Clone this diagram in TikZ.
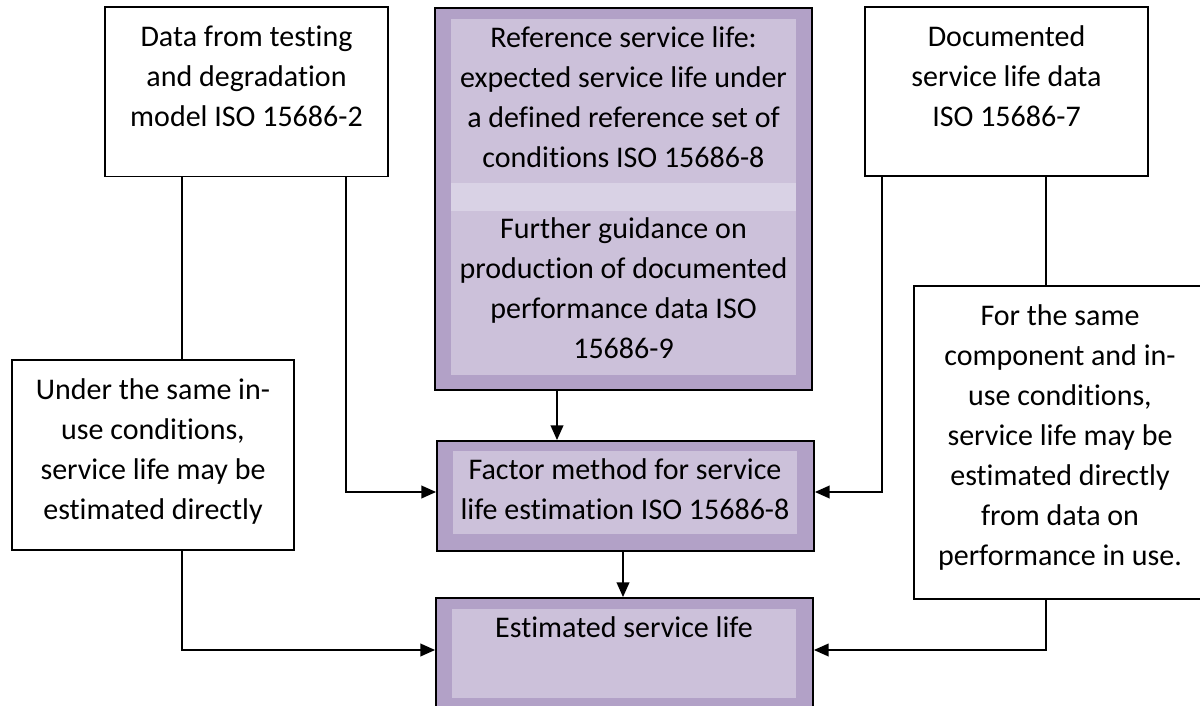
\documentclass[tikz,border=0pt]{standalone}
\usepackage{fontspec}
\setmainfont{Carlito}[Ligatures=NoCommon]
\usetikzlibrary{arrows.meta,calc}
\definecolor{lilacdark}{HTML}{B2A1C7}
\definecolor{lilac}{HTML}{CCC1DA}
\definecolor{lilaclight}{HTML}{D9D2E5}
\begin{document}
\begin{tikzpicture}[x=0.75pt,y=-0.75pt,
  whitebox/.style={draw=black,line width=1.4pt,fill=white,inner sep=0pt},
  purplebox/.style={draw=black,line width=1.4pt,fill=lilacdark,inner sep=0pt},
  panel/.style={fill=lilac,inner sep=0pt},
  band/.style={fill=lilaclight,inner sep=0pt},
  txt/.style={align=center,anchor=base,inner sep=0pt,font=\fontsize{22.5pt}{30pt}\selectfont},
  conn/.style={line width=1.2pt},
  arr/.style={conn,-{Triangle[length=11pt,width=9.5pt]}}]
\useasboundingbox (0,0) rectangle (1200,706);
\clip (0,0) rectangle (1200,706);
\fill[white] (0,0) rectangle (1200,706);

% outer boxes
\node[whitebox,minimum width=283*0.75pt,minimum height=169.5*0.75pt] (ltop) at (246.5,91.75) {};
\node[whitebox,minimum width=282*0.75pt,minimum height=190*0.75pt] (llow) at (153,455) {};
\node[whitebox,minimum width=283*0.75pt,minimum height=169*0.75pt] (rtop) at (1006.5,91.5) {};
\node[whitebox,minimum width=292*0.75pt,minimum height=313*0.75pt] (rlow) at (1060,442.5) {};
\node[purplebox,minimum width=377*0.75pt,minimum height=382*0.75pt] (ctop) at (623.5,199) {};
\node[purplebox,minimum width=377*0.75pt,minimum height=110*0.75pt] (factor) at (625.5,496) {};
\node[purplebox,minimum width=377*0.75pt,minimum height=122*0.75pt] (est) at (624.5,659) {};

% lighter inner panels of the purple boxes
\node[panel,minimum width=345*0.75pt,minimum height=356*0.75pt] (ctoppanel) at (623.5,197) {};
\node[band,minimum width=345*0.75pt,minimum height=28*0.75pt] (ctopband) at (623.5,197) {};
\node[panel,minimum width=344*0.75pt,minimum height=83*0.75pt] (factorpanel) at (625,492.5) {};
\node[panel,minimum width=344*0.75pt,minimum height=89*0.75pt] (estpanel) at (624,653.5) {};

% texts (placed by the baseline of their last line)
\node[txt] (ltoptxt) at (246.5,127) {Data from testing\\and degradation\\model ISO 15686-2};
\node[txt] (rtoptxt) at (1006.5,127) {Documented\\service life data\\ISO 15686-7};
\node[txt] (ctoptxta) at (623.5,168) {Reference service life:\\expected service life under\\a defined reference set of\\conditions ISO 15686-8};
\node[txt] (ctoptxtb) at (623.5,358) {Further guidance on\\production of documented\\performance data ISO\\15686-9};
\node[txt] (llowtxt) at (153,519) {Under the same in-\\use conditions,\\service life may be\\estimated directly};
\node[txt] (rlowtxt) at (1060,565) {For the same\\component and in-\\use conditions,\\service life may be\\estimated directly\\from data on\\performance in use.};
\node[txt] (factortxt) at (625,519) {Factor method for service\\life estimation ISO 15686-8};
\node[txt] (esttxt) at (624,637) {Estimated service life};

% connector end points
\coordinate (l1) at ($(ltop.south)+(-64.5,0)$);
\coordinate (l2) at ($(ltop.south)+(99.5,0)$);
\coordinate (l3) at ($(llow.south)+(29,0)$);
\coordinate (r1) at ($(rtop.south)+(-124.5,0)$);
\coordinate (r2) at ($(rtop.south)+(39.5,0)$);
\coordinate (r3) at ($(rlow.south)+(-14,0)$);
\coordinate (c1) at ($(ctop.south)+(-66.5,0)$);
\coordinate (f1) at ($(factor.south)+(-2.5,0)$);
\coordinate (fa) at ($(factor.west)+(0,-4)$);
\coordinate (fb) at ($(factor.east)+(0,-4)$);
\coordinate (ea) at ($(est.west)+(0,-9)$);
\coordinate (eb) at ($(est.east)+(0,-9)$);

% connectors
\draw[conn] (l1) -- (l1 |- llow.north);
\draw[arr] (l2) |- (fa);
\draw[arr] (l3) |- (ea);
\draw[arr] (r1) |- (fb);
\draw[conn] (r2) -- (r2 |- rlow.north);
\draw[arr] (r3) |- (eb);
\draw[arr] (c1) -- (c1 |- factor.north);
\draw[arr] (f1) -- (f1 |- est.north);
\end{tikzpicture}
\end{document}
